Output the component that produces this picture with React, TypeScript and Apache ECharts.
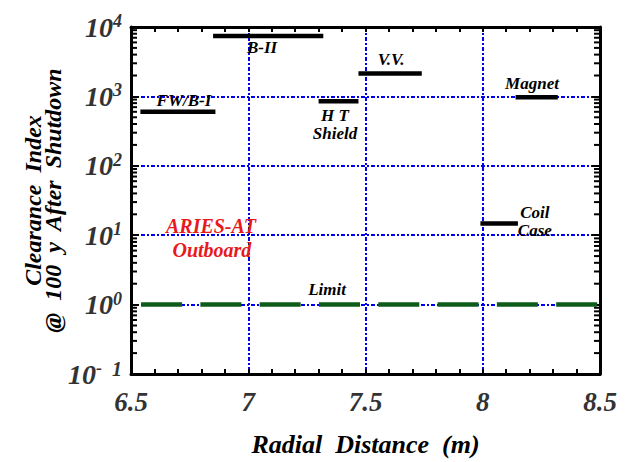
import React, { useEffect, useRef } from "react";
import * as echarts from "echarts";

// Component segments (radial extent and clearance index)
const segNames = ["FW/B-I", "B-II", "HT Shield", "V.V.", "Coil Case", "Magnet"];
const segStart = [6.54, 6.85, 7.30, 7.47, 7.99, 8.14];
const segEnd = [6.86, 7.32, 7.47, 7.74, 8.15, 8.32];
const segValue = [600, 7400, 850, 2130, 14.8, 970];

// Clearance limit
const limitStart = 6.543;
const limitEnd = 8.5;
const limitValue = 1;

// Annotation texts (data-space anchor)
const annoText = ["FW/B-I", "B-II", "V.V.", "H T\nShield", "Magnet", "Coil\nCase", "Limit"];
const annoX = [6.726, 7.059, 7.609, 7.37, 8.21, 8.222, 7.336];
const annoY = [877, 5000, 3380, 390, 1534, 15.6, 1.64];

const redText = ["ARIES-AT", "Outboard"];
const redX = [6.841, 6.845];
const redY = [13.4, 6.1];

// Axes
const xMin = 6.5;
const xMax = 8.5;
const xInterval = 0.5;
const yMin = 0.1;
const yMax = 10000;
const decades = [-1, 0, 1, 2, 3];
const minorMult = [2, 3, 4, 5, 6, 7, 8, 9];

const serif = "Liberation Serif";

export default function App() {
  const ref = useRef<HTMLDivElement>(null);
  useEffect(() => {
    document.body.style.margin = "0";
    const chart = echarts.init(ref.current!, undefined, { renderer: "svg" });

    const minorTicks: number[][] = [];
    decades.forEach((d) => minorMult.forEach((m) => minorTicks.push([xMin, m * Math.pow(10, d)])));

    const segSeries = segNames.map((n, i) => ({
      type: "line",
      name: n,
      data: [
        [segStart[i], segValue[i]],
        [segEnd[i], segValue[i]],
      ],
      symbol: "none",
      lineStyle: { color: "#000", width: 4.5 },
      z: 5,
    }));

    const labelStyle = {
      fontFamily: serif,
      fontWeight: "bold",
      fontStyle: "italic",
      fontSize: 17,
      color: "#000",
      lineHeight: 18,
      textBorderWidth: 0,
      opacity: 1,
    };

    const option: any = {
      animation: false,
      grid: { left: 131, top: 27, width: 469, height: 350, containLabel: false },
      xAxis: [
        {
          type: "value",
          min: xMin,
          max: xMax,
          interval: xInterval,
          position: "bottom",
          axisLine: { show: true, lineStyle: { color: "#000", width: 3 } },
          axisTick: { show: true, inside: true, length: 5, lineStyle: { color: "#000", width: 2 } },
          minorTick: { show: true, splitNumber: 5, length: 5, lineStyle: { color: "#000", width: 2 } },
          splitLine: { show: true, lineStyle: { color: "#0000ee", width: 2, type: [4, 2, 2, 2] } },
          axisLabel: {
            margin: 14,
            fontFamily: serif,
            fontWeight: "bold",
            fontStyle: "italic",
            fontSize: 27,
            color: "#333",
            formatter: (v: number) => (Math.abs(v - Math.round(v)) < 1e-9 ? String(Math.round(v)) : v.toFixed(1)),
          },
          name: "Radial  Distance  (m)",
          nameLocation: "middle",
          nameGap: 57,
          nameMoveOverlap: false,
          nameTextStyle: {
            fontFamily: serif,
            fontWeight: "bold",
            fontStyle: "italic",
            fontSize: 26,
            color: "#000",
          },
        },
        {
          type: "value",
          min: xMin,
          max: xMax,
          interval: xInterval,
          position: "top",
          axisLine: { show: true, lineStyle: { color: "#000", width: 3 } },
          axisTick: { show: true, inside: true, length: 5, lineStyle: { color: "#000", width: 2 } },
          minorTick: { show: true, splitNumber: 5, length: 5, lineStyle: { color: "#000", width: 2 } },
          splitLine: { show: false },
          axisLabel: { show: false },
        },
      ],
      yAxis: [
        {
          type: "log",
          logBase: 10,
          min: yMin,
          max: yMax,
          splitNumber: 5,
          position: "left",
          axisLine: { show: true, lineStyle: { color: "#000", width: 3 } },
          axisTick: { show: true, inside: true, length: 8, lineStyle: { color: "#000", width: 2 } },
          splitLine: { show: true, lineStyle: { color: "#0000ee", width: 2, type: [4, 2, 2, 2] } },
          axisLabel: {
            margin: 9,
            formatter: (v: number) => {
              const e = Math.round(Math.log10(v));
              if (e === -1) return "{b|10}{s|-}{c|  1}";
              return "{b|10}{s|" + e + "}";
            },
            rich: {
              b: { fontFamily: serif, fontWeight: "bold", fontStyle: "italic", fontSize: 28, color: "#333", lineHeight: 30 },
              s: { fontFamily: serif, fontWeight: "bold", fontStyle: "italic", fontSize: 18, color: "#333", verticalAlign: "top", lineHeight: 30 },
              c: { fontFamily: serif, fontWeight: "bold", fontStyle: "italic", fontSize: 20, color: "#333", verticalAlign: "top", lineHeight: 30 },
            },
          },
          name: "Clearance  Index\n@  100  y  After  Shutdown",
          nameLocation: "middle",
          nameRotate: 90,
          nameGap: 68,
          nameMoveOverlap: false,
          nameTextStyle: {
            fontFamily: serif,
            fontWeight: "bold",
            fontStyle: "italic",
            fontSize: 24,
            lineHeight: 20,
            color: "#000",
          },
        },
        {
          type: "log",
          logBase: 10,
          min: yMin,
          max: yMax,
          splitNumber: 5,
          position: "right",
          axisLine: { show: true, lineStyle: { color: "#000", width: 3 } },
          axisTick: { show: true, inside: true, length: 8, lineStyle: { color: "#000", width: 2 } },
          splitLine: { show: false },
          axisLabel: { show: false },
        },
      ],
      series: [
        {
          type: "custom",
          name: "minorY",
          data: minorTicks,
          silent: true,
          z: 4,
          renderItem: (params: any, api: any) => {
            const v = api.value(1);
            const pL = api.coord([xMin, v]);
            const pR = api.coord([xMax, v]);
            return {
              type: "group",
              children: [
                { type: "line", shape: { x1: pL[0], y1: pL[1], x2: pL[0] + 6, y2: pL[1] }, style: { stroke: "#000", lineWidth: 2 } },
                { type: "line", shape: { x1: pR[0], y1: pR[1], x2: pR[0] - 6, y2: pR[1] }, style: { stroke: "#000", lineWidth: 2 } },
              ],
            };
          },
        },
        {
          type: "line",
          name: "Limit",
          data: [
            [limitStart, limitValue],
            [limitEnd, limitValue],
          ],
          symbol: "none",
          lineStyle: { color: "#0d5c1a", width: 4.5, type: [41, 18.3] },
          z: 5,
        },
        ...segSeries,
        {
          type: "scatter",
          name: "labels",
          symbolSize: 0,
          silent: true,
          itemStyle: { color: "#000", opacity: 1 },
          data: annoText.map((t, i) => ({ value: [annoX[i], annoY[i]], name: t })),
          label: { show: true, position: "inside", formatter: (p: any) => p.name, ...labelStyle, align: "center" },
          z: 6,
        },
        {
          type: "scatter",
          name: "aries",
          symbolSize: 0,
          silent: true,
          itemStyle: { color: "#e8191c", opacity: 1 },
          data: redText.map((t, i) => ({ value: [redX[i], redY[i]], name: t })),
          label: {
            show: true,
            position: "inside",
            formatter: (p: any) => p.name,
            fontFamily: serif,
            fontWeight: "bold",
            fontStyle: "italic",
            fontSize: 20,
            color: "#e8191c",
            textBorderWidth: 0,
            opacity: 1,
          },
          z: 6,
        },
      ],
    };
    chart.setOption(option);
    return () => chart.dispose();
  }, []);
  return <div ref={ref} style={{ width: 626, height: 462 }} />;
}
